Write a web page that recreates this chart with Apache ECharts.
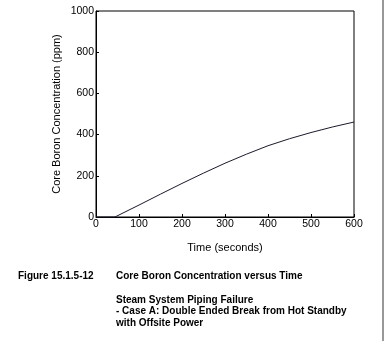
<!DOCTYPE html>
<html>
<head>
<meta charset="utf-8">
<script src="https://cdn.jsdelivr.net/npm/echarts@6/dist/echarts.min.js"></script>
<style>
  html, body { margin: 0; padding: 0; background: #fff; }
  #chart { width: 384px; height: 341px; }
</style>
</head>
<body>
<div id="chart"></div>
<script>
// Core boron concentration (ppm) against time (seconds)
const timeSec = [0, 44, 100, 150, 200, 250, 300, 350, 400, 450, 500, 550, 600];
const boronPpm = [0, 0, 58, 111, 163, 213, 261, 305, 346, 380, 410, 437, 461];
const xTicks = [0, 100, 200, 300, 400, 500, 600];
const yTicks = [0, 200, 400, 600, 800, 1000];

const font = 'Liberation Sans, Arial, sans-serif';
const chart = echarts.init(document.getElementById('chart'), null, { renderer: 'canvas' });

chart.setOption({
  animation: false,
  backgroundColor: '#fff',
  grid: {
    left: 96, top: 11, width: 258, height: 206,
    show: true, borderColor: '#000', borderWidth: 1, backgroundColor: 'transparent'
  },
  xAxis: {
    type: 'value',
    min: xTicks[0], max: xTicks[xTicks.length - 1], interval: 100,
    name: 'Time (seconds)', nameLocation: 'middle', nameGap: 25, nameMoveOverlap: false,
    nameTextStyle: { color: '#000', fontFamily: font, fontSize: 11 },
    axisLine: { show: true, lineStyle: { color: '#000', width: 1 } },
    axisTick: { show: true, inside: true, length: 3, lineStyle: { color: '#000' } },
    axisLabel: { color: '#000', fontFamily: font, fontSize: 10.5, margin: 2, formatter: v => String(v) },
    splitLine: { show: false }
  },
  yAxis: {
    type: 'value',
    min: yTicks[0], max: yTicks[yTicks.length - 1], interval: 200,
    name: 'Core Boron Concentration (ppm)', nameLocation: 'middle', nameGap: 34, nameMoveOverlap: false,
    nameTextStyle: { color: '#000', fontFamily: font, fontSize: 11 },
    axisLine: { show: true, lineStyle: { color: '#000', width: 1 } },
    axisTick: { show: true, inside: true, length: 3, lineStyle: { color: '#000' } },
    axisLabel: { color: '#000', fontFamily: font, fontSize: 10.5, margin: 2, formatter: v => String(v) },
    splitLine: { show: false }
  },
  series: [{
    type: 'line',
    data: timeSec.map((t, i) => [t, boronPpm[i]]),
    smooth: false,
    symbol: 'none',
    lineStyle: { color: '#1a1a2a', width: 1 }
  }],
  graphic: [
    { type: 'line', shape: { x1: 383, y1: 0, x2: 383, y2: 341 }, style: { stroke: '#333', lineWidth: 1 } },
    { type: 'text', left: 18, top: 271, style: { text: 'Figure 15.1.5-12', font: 'bold 10px ' + font, fill: '#000' } },
    { type: 'text', left: 116, top: 271, style: { text: 'Core Boron Concentration versus Time', font: 'bold 10px ' + font, fill: '#000' } },
    { type: 'text', left: 116, top: 294, style: {
        text: 'Steam System Piping Failure\n- Case A: Double Ended Break from Hot Standby\nwith Offsite Power',
        font: 'bold 10px ' + font, fill: '#000', lineHeight: 11.7 } }
  ]
});
</script>
</body>
</html>
